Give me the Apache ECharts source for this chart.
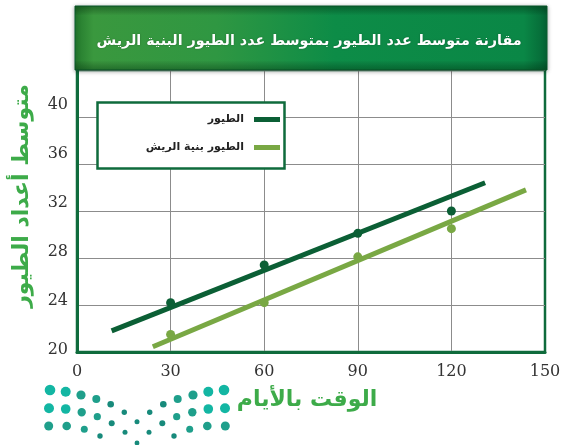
<!DOCTYPE html>
<html>
<head>
<meta charset="utf-8">
<script src="https://cdn.jsdelivr.net/npm/echarts@6/dist/echarts.min.js"></script>
<style>
html,body{margin:0;padding:0;background:#fff;}
#c{width:561px;height:445px;}
</style>
</head>
<body>
<div id="c"></div>
<script>
// ---- data ----
const titleText = 'مقارنة متوسط عدد الطيور بمتوسط عدد الطيور البنية الريش';
const yName = 'متوسط أعداد الطيور';
const xName = 'الوقت بالأيام';
const seriesNames = ['الطيور', 'الطيور بنية الريش'];
const xTicks = [0, 30, 60, 90, 120, 150];
const yTicks = [20, 24, 28, 32, 36, 40];
const days = [30, 60, 90, 120];
const birds = [24.2, 27.4, 30.1, 32.0];
const brownBirds = [21.5, 24.2, 28.1, 30.5];
const birdsFitX = [11.1, 130.8];
const birdsFitY = [21.8, 34.4];
const brownFitX = [24.3, 143.9];
const brownFitY = [20.45, 33.8];

const darkGreen = '#0b5f35';
const lightGreen = '#79a844';
const axisGreen = '#0f6b3c';
const gridGray = '#8c8c8c';
const nameGreen = '#3dab49';

const pair = (xs, ys) => xs.map((x, i) => [x, ys[i]]);

// logo dots (left half + center), mirrored about x = 137
const logoLeft = [
  [50,390,5.3],[65.7,391.7,5],[81,395,4.6],[96.3,399,4],[110.7,404.3,3.3],[124.3,412.3,2.7],
  [49,408.3,5],[65.7,409,4.8],[81.7,412.3,4.2],[97.3,416.7,3.6],[111.7,423.3,3],[125,432.3,2.5],
  [48.7,426,4.5],[66.7,426,4.3],[84.3,429.3,3.5],[100,436,2.7]
];
const logoCenter = [[137,421.7,2.5],[137,443,2.4]];
const logoDots = logoLeft.concat(logoLeft.map(d => [274 - d[0], d[1], d[2]])).concat(logoCenter);
const dotColor = r => r >= 4.8 ? '#13b6a3' : (r >= 3.5 ? '#1f9f8b' : '#178a7b');

const chart = echarts.init(document.getElementById('c'), null, {renderer: 'canvas'});

const graphics = [
  {
    type: 'rect', z: 10,
    shape: {x: 75, y: 6, width: 472, height: 64},
    style: {
      fill: new echarts.graphic.LinearGradient(0, 0, 1, 0, [
        {offset: 0, color: '#23782c'},
        {offset: 0.04, color: '#3a983e'},
        {offset: 0.3, color: '#2f9742'},
        {offset: 0.55, color: '#0d8c47'},
        {offset: 0.95, color: '#0a8746'},
        {offset: 1, color: '#056535'}
      ]),
      stroke: '#0a5e30', lineWidth: 1,
      shadowBlur: 4, shadowColor: 'rgba(0,0,0,0.35)', shadowOffsetY: 1
    }
  },
  {
    type: 'rect', z: 11, silent: true,
    shape: {x: 75, y: 6, width: 472, height: 64},
    style: {
      fill: new echarts.graphic.LinearGradient(0, 0, 0, 1, [
        {offset: 0, color: 'rgba(0,50,15,0.35)'},
        {offset: 0.15, color: 'rgba(0,0,0,0)'},
        {offset: 0.85, color: 'rgba(0,0,0,0)'},
        {offset: 1, color: 'rgba(0,50,15,0.35)'}
      ])
    }
  },
  {
    type: 'rect', z: 8,
    shape: {x: 97.5, y: 102.5, width: 187, height: 66},
    style: {fill: '#ffffff', stroke: axisGreen, lineWidth: 2.5}
  }
].concat(logoDots.map(d => ({
  type: 'circle', z: 5, silent: true,
  shape: {cx: d[0], cy: d[1], r: d[2]},
  style: {fill: dotColor(d[2])}
})));

const legendBase = {
  orient: 'horizontal', align: 'right', padding: 0,
  itemWidth: 26, itemHeight: 5, icon: 'rect', selectedMode: false, z: 20,
  textStyle: {fontFamily: 'DejaVu Sans', fontWeight: 'bold', fontSize: 11, color: '#222', padding: [0, 5, 0, 0]}
};

chart.setOption({
  animation: false,
  backgroundColor: '#ffffff',
  title: {
    text: titleText, left: 304, textAlign: 'center', top: 29, z: 20,
    textStyle: {color: '#ffffff', fontFamily: 'DejaVu Sans', fontWeight: 'bold', fontSize: 14.3,
      textShadowColor: 'rgba(0,0,0,0.3)', textShadowBlur: 2}
  },
  legend: [
    Object.assign({}, legendBase, {data: [seriesNames[0]], right: 281, top: 114}),
    Object.assign({}, legendBase, {data: [seriesNames[1]], right: 281, top: 142})
  ],
  grid: {left: 77, right: 16, top: 70, bottom: 93, outerBoundsMode: 'none', containLabel: false,
    show: true, borderColor: axisGreen, borderWidth: 2.5, backgroundColor: '#fff'},
  xAxis: {
    type: 'value', min: xTicks[0], max: xTicks[xTicks.length - 1], interval: 30,
    name: xName, nameLocation: 'middle', nameGap: 37,
    nameTextStyle: {color: nameGreen, fontFamily: 'DejaVu Sans', fontWeight: 'bold', fontSize: 22, padding: [0, 8, 0, 0]},
    axisLine: {show: true, lineStyle: {color: axisGreen, width: 3}},
    axisTick: {show: false},
    axisLabel: {margin: 12, color: '#333', fontFamily: 'DejaVu Serif', fontSize: 16,
      customValues: xTicks},
    splitLine: {show: true, showMinLine: false, showMaxLine: false, lineStyle: {color: gridGray, width: 1}}
  },
  yAxis: [
    {
      type: 'value', min: 20, max: 44, interval: 4,
      name: yName, nameLocation: 'middle', nameGap: 44, nameRotate: 90,
      nameTextStyle: {color: nameGreen, fontFamily: 'DejaVu Sans', fontWeight: 'bold', fontSize: 22, padding: [0, 0, 0, 30]},
      axisLine: {show: true, lineStyle: {color: axisGreen, width: 3}},
      axisTick: {show: false},
      axisLabel: {show: false},
      splitLine: {show: true, showMinLine: false, lineStyle: {color: gridGray, width: 1}}
    },
    {
      type: 'value', min: 19.84, max: 42.81, position: 'left',
      axisLine: {show: false}, axisTick: {show: false}, splitLine: {show: false},
      axisLabel: {margin: 9, color: '#333', fontFamily: 'DejaVu Serif', fontSize: 16, customValues: yTicks}
    }
  ],
  series: [
    {
      name: seriesNames[0], type: 'line', yAxisIndex: 0, data: pair(birdsFitX, birdsFitY),
      symbol: 'none', color: darkGreen, lineStyle: {color: darkGreen, width: 5}, z: 3, silent: true
    },
    {
      name: seriesNames[1], type: 'line', yAxisIndex: 0, data: pair(brownFitX, brownFitY),
      symbol: 'none', color: lightGreen, lineStyle: {color: lightGreen, width: 5}, z: 3, silent: true
    },
    {
      name: seriesNames[0], type: 'scatter', yAxisIndex: 0, data: pair(days, birds),
      symbolSize: 9, itemStyle: {color: darkGreen, opacity: 1}, z: 4
    },
    {
      name: seriesNames[1], type: 'scatter', yAxisIndex: 0, data: pair(days, brownBirds),
      symbolSize: 9, itemStyle: {color: lightGreen, opacity: 1}, z: 4
    }
  ],
  graphic: graphics
});
</script>
</body>
</html>
